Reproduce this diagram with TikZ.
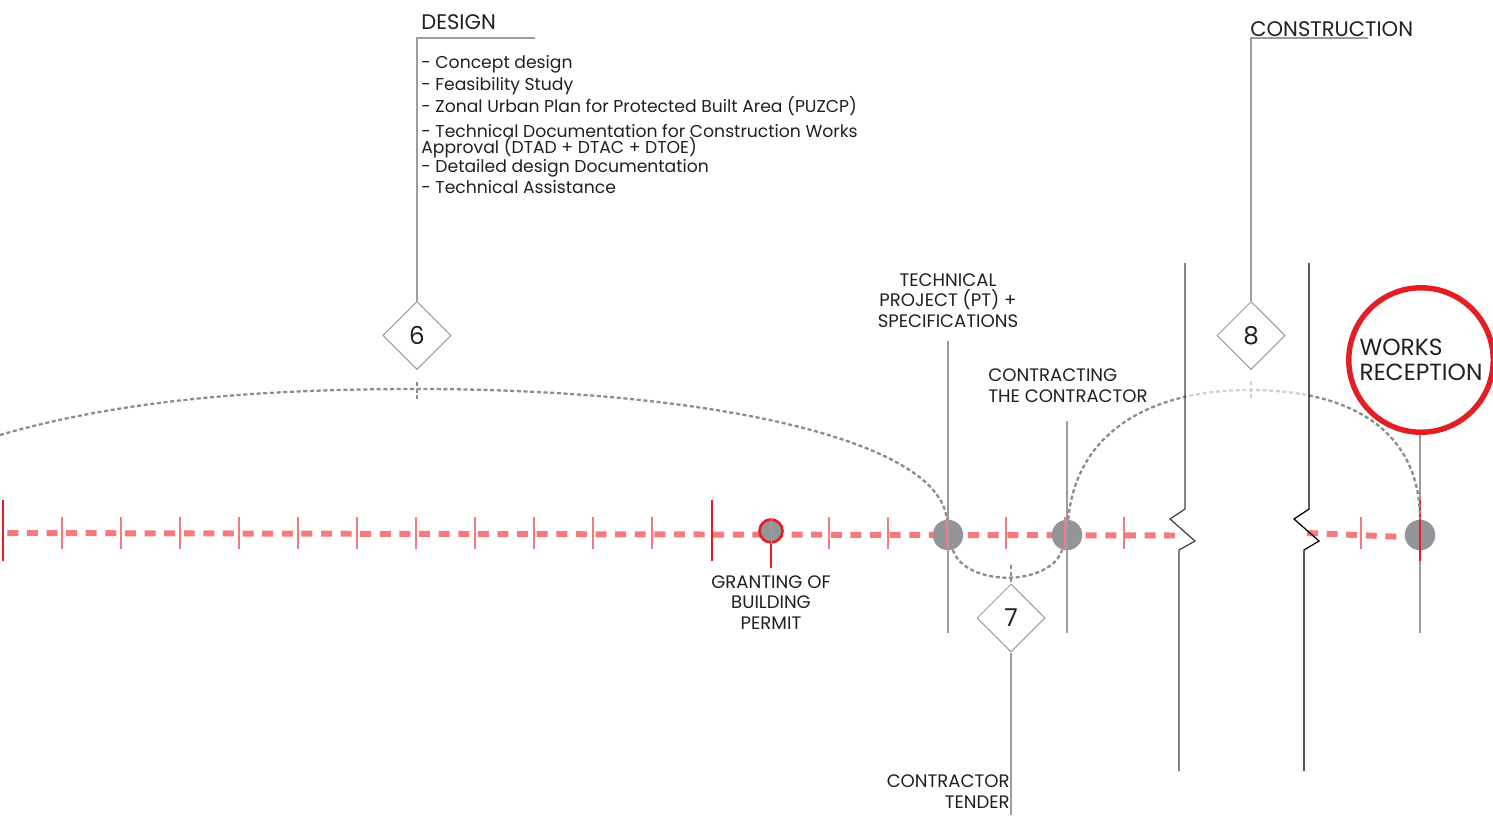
\documentclass[tikz,border=0pt]{standalone}
\usepackage{fontspec}
\setmainfont{Poppins}
\usetikzlibrary{shapes.geometric}
\definecolor{salmon}{HTML}{F47A7E}
\definecolor{redline}{HTML}{E31E24}
\definecolor{dotgrey}{HTML}{8C8C8C}
\definecolor{lightdot}{HTML}{D2D2D2}
\definecolor{dotfill}{HTML}{939598}
\definecolor{stemgrey}{HTML}{9C9C9C}
\definecolor{ink}{HTML}{231F20}

\begin{document}
\begin{tikzpicture}[x=0.02cm,y=-0.02cm,
  lbl/.style={inner sep=0pt, text=ink, font=\fontsize{10.3}{11.5}\selectfont},
  head/.style={inner sep=0pt, text=ink, font=\fontsize{12}{14}\selectfont},
  stage/.style={diamond, draw=stemgrey, line width=0.6pt, fill=white, minimum size=1.36cm, inner sep=0pt, text=ink, font=\fontsize{14}{16}\selectfont},
  milestone/.style={circle, fill=dotfill, minimum size=0.61cm, inner sep=0pt},
  stemline/.style={draw=stemgrey, line width=0.7pt},
  phase/.style={draw=dotgrey, line width=1.3pt, dash pattern=on 2.3pt off 1.5pt},
  tick/.style={draw=salmon, line width=0.8pt},
  bigtick/.style={draw=redline, line width=0.8pt},
  brk/.style={draw=black!75, line width=0.7pt}]

\useasboundingbox (0,0) rectangle (1493,815);

% timeline
\draw[salmon, line width=3.4pt, dash pattern=on 6.24pt off 4.92pt] (7.3,533) -- (1180,535.5);
\draw[salmon, line width=3.4pt, dash pattern=on 6.24pt off 4.92pt] (1307,533) -- (1405,537);

% milestones
\node[milestone] (tp) at (948,535) {};
\node[milestone] (cc) at (1067,535) {};
\node[milestone] (wr) at (1420,535) {};
\node[milestone, draw=redline, line width=1.5pt, minimum size=0.46cm] (gp) at (771,531) {};

\draw[stemline] (948,341) -- (948,633);
\draw[stemline] (1067,421) -- (1067,633);
\draw[stemline] (1420,433) -- (1420,633);
\draw[stemline, line width=0.5pt] (gp.north) -- (gp.south);
\draw[redline, line width=1pt] (gp.south) -- ++(0,24);

\foreach \k in {1,...,11,14,15,16,17,18,19}
  \draw[tick] (3+59*\k,517) -- ++(0,32);
\draw[tick] (1361,517) -- ++(0,32);
\foreach \xx in {3,712,1420}
  \draw[bigtick] (\xx,500) -- ++(0,61);

% stages
\node[stage] (d6) at (417,335.5) {6};
\node[stage] (d7) at (1011,618) {7};
\node[stage] (d8) at (1251,335.5) {8};

\coordinate (designhead) at (535,38);
\coordinate (conhead) at (1368,38);
\coordinate (farleft) at (0,435);
\coordinate (top6) at (417,389);
\coordinate (top8) at (1250,390);

\draw[stemline] (d6.north) |- (designhead);
\draw[stemline] (d8.north) |- (conhead);
\draw[stemline] (d7.south) -- (d7.south |- 0,815);

% dotted phases
\draw[phase] (farleft) .. controls (120,400) and (260,389) .. (top6)
  .. controls (710,389) and (940,440) .. (tp);
\draw[phase] (tp) .. controls (965,587) and (1050,587) .. (cc);
\draw[phase] (cc) .. controls (1075,440) and (1140,390) .. (top8)
  .. controls (1350,390) and (1420,430) .. (wr);
\begin{scope}
  \clip (1186,300) rectangle (1308,460);
  \fill[white] (1186,370) rectangle (1308,430);
  \draw[phase, draw=lightdot] (cc) .. controls (1075,440) and (1140,390) .. (top8)
    .. controls (1350,390) and (1420,430) .. (wr);
\end{scope}
\draw[phase] (d6.south) ++(0,12) -- ++(0,17);
\draw[phase, draw=lightdot] (d8.south) ++(0,11) -- ++(0,20);
\draw[phase] (d7.north) ++(0,-1) -- ++(0,-18);

% breaks
\draw[brk] (1185,263) -- (1185,509) -- (1170,519) -- (1195,541) -- (1179,550) -- (1179,771);
\draw[brk, draw=black] (1309,263) -- (1309,509) -- (1294,519) -- (1319,541) -- (1304,550) -- (1304,771);

% texts
\node[head, anchor=base west] (design) at (421,29) {DESIGN};
\node[head, anchor=base west] (construction) at (1250,36) {CONSTRUCTION};
\node[lbl, font=\fontsize{9.8}{12.5}\selectfont, align=left, anchor=base west] (designlist) at (421,193)
  {- Concept design\\
   - Feasibility Study\\
   - Zonal Urban Plan for Protected Built Area (PUZCP)\\[1.7pt]
   - Technical Documentation for Construction Works\\[-3.4pt]
   Approval (DTAD + DTAC + DTOE)\\[-1.7pt]
   - Detailed design Documentation\\[-0.6pt]
   - Technical Assistance};
\node[lbl, align=center, anchor=base] (tptext) at (948,327)
  {TECHNICAL\\PROJECT (PT) +\\SPECIFICATIONS};
\node[lbl, align=left, anchor=base west] (cctext) at (988,402)
  {CONTRACTING\\THE CONTRACTOR};
\node[lbl, align=center, anchor=base] (gptext) at (771,629)
  {GRANTING OF\\BUILDING\\PERMIT};
\node[lbl, align=right, anchor=base east] (tender) at (1010,808)
  {CONTRACTOR\\TENDER};
\node[circle, draw=redline, line width=3.1pt, minimum size=2.89cm, inner sep=0pt,
  align=left, text=ink, font=\fontsize{13.3}{14.2}\selectfont] (reception) at (1421,360)
  {WORKS\\RECEPTION};
\end{tikzpicture}
\end{document}
